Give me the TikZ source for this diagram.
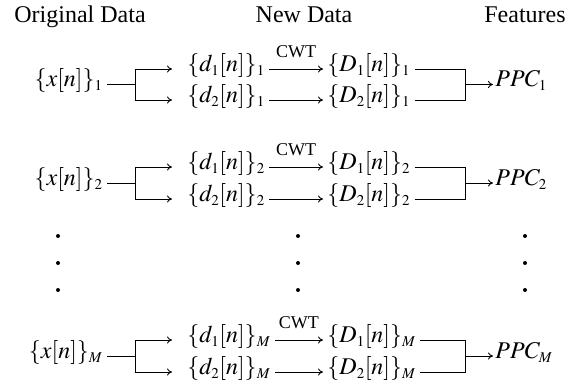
\documentclass[tikz,border=0pt]{standalone}
\usepackage{mathptmx}
\usepackage{fontspec}
\setmainfont{Liberation Serif}
\usetikzlibrary{arrows.meta}
\DeclareMathSizes{24}{24}{15}{12}

\begin{document}
\begin{tikzpicture}[x=1pt,y=-1pt,
   every node/.style={font=\fontsize{24}{28}\selectfont},
   term/.style={inner xsep=4pt,inner ysep=0pt,text height=0.8em,text depth=0.3em},
   hdr/.style={anchor=base,inner sep=0pt},
   lbl/.style={font=\fontsize{18}{20}\selectfont,inner sep=0pt,above=11pt},
   vdot/.style={circle,fill,inner sep=0pt,minimum size=4pt},
   >={To[length=5pt,width=7pt]},line width=0.9pt]
\useasboundingbox (0,0) rectangle (585,387);
% headings
\node[hdr] (orig) at (80,23) {Original Data};
\node[hdr] (new) at (304,23) {New Data};
\node[hdr] (feat) at (525,23) {Features};
% first record
\node[term,anchor=east] (x1) at (107,84.5) {$\{x[n]\}_1$};
\coordinate (s1) at (135,84.5);
\node[term,anchor=west] (d11) at (183,69) {$\{d_1[n]\}_1$};
\node[term,anchor=west] (d21) at (183,100) {$\{d_2[n]\}_1$};
\node[term,anchor=west] (D11) at (323,69) {$\{D_1[n]\}_1$};
\node[term,anchor=west] (D21) at (323,100) {$\{D_2[n]\}_1$};
\coordinate (j1) at (465,84.5);
\node[term,anchor=west,inner xsep=2pt] (p1) at (493,84.5) {$PPC_1$};
\draw (x1) -- (s1);
\draw[->,shorten >=11pt] (s1) |- (d11);
\draw[->,shorten >=11pt] (s1) |- (d21);
\draw[->] (d11) -- node[lbl] {CWT} (D11);
\draw[->] (d21) -- (D21);
\draw (D11) -| (j1);
\draw (D21) -| (j1);
\draw[->] (j1) -- (p1);
% second record
\node[term,anchor=east] (x2) at (107,183) {$\{x[n]\}_2$};
\coordinate (s2) at (135,183);
\node[term,anchor=west] (d12) at (183,167) {$\{d_1[n]\}_2$};
\node[term,anchor=west] (d22) at (183,199) {$\{d_2[n]\}_2$};
\node[term,anchor=west] (D12) at (323,167) {$\{D_1[n]\}_2$};
\node[term,anchor=west] (D22) at (323,199) {$\{D_2[n]\}_2$};
\coordinate (j2) at (465,183);
\node[term,anchor=west,inner xsep=2pt] (p2) at (493,183) {$PPC_2$};
\draw (x2) -- (s2);
\draw[->,shorten >=11pt] (s2) |- (d12);
\draw[->,shorten >=11pt] (s2) |- (d22);
\draw[->] (d12) -- node[lbl] {CWT} (D12);
\draw[->] (d22) -- (D22);
\draw (D12) -| (j2);
\draw (D22) -| (j2);
\draw[->] (j2) -- (p2);
% vertical dots
\node[vdot] (v11) at (58,236) {};
\node[vdot] (v12) at (58,263) {};
\node[vdot] (v13) at (58,290) {};
\node[vdot] (v21) at (298,236) {};
\node[vdot] (v22) at (298,263) {};
\node[vdot] (v23) at (298,290) {};
\node[vdot] (v31) at (525,236) {};
\node[vdot] (v32) at (525,263) {};
\node[vdot] (v33) at (525,290) {};
% last record
\node[term,anchor=east] (xM) at (107,356) {$\{x[n]\}_M$};
\coordinate (sM) at (135,356);
\node[term,anchor=west] (d1M) at (183,340) {$\{d_1[n]\}_M$};
\node[term,anchor=west] (d2M) at (183,372) {$\{d_2[n]\}_M$};
\node[term,anchor=west] (D1M) at (323,340) {$\{D_1[n]\}_M$};
\node[term,anchor=west] (D2M) at (323,372) {$\{D_2[n]\}_M$};
\coordinate (jM) at (465,356);
\node[term,anchor=west,inner xsep=2pt] (pM) at (493,356) {$PPC_M$};
\draw (xM) -- (sM);
\draw[->,shorten >=11pt] (sM) |- (d1M);
\draw[->,shorten >=11pt] (sM) |- (d2M);
\draw[->] (d1M) -- node[lbl] {CWT} (D1M);
\draw[->] (d2M) -- (D2M);
\draw (D1M) -| (jM);
\draw (D2M) -| (jM);
\draw[->] (jM) -- (pM);
\end{tikzpicture}
\end{document}
